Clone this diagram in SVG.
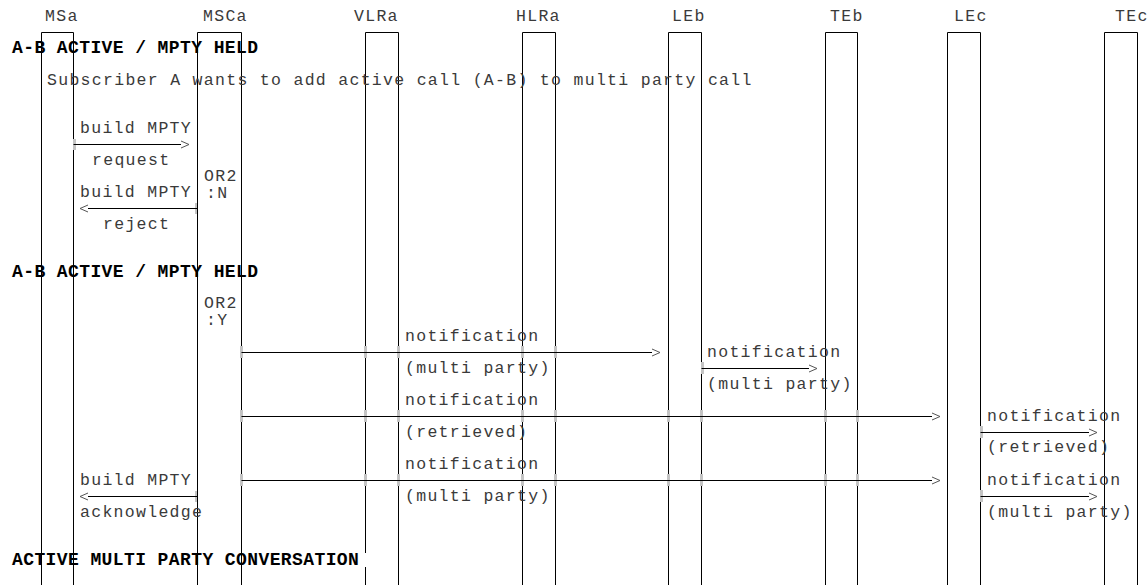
<svg xmlns="http://www.w3.org/2000/svg" width="1147" height="585" viewBox="0 0 1147 585">
<style>
.bg{fill:#fff}
.ll{fill:none;stroke:#000;stroke-width:1}
.t{font-family:"Liberation Mono","Courier New",monospace;font-size:16.5px;letter-spacing:1.3px;fill:#3a3a3a}
.b{font-family:"Liberation Mono","Courier New",monospace;font-size:18px;font-weight:bold;letter-spacing:0.4px;fill:#000}
.msg{fill:none;stroke:#000;stroke-width:1}
.tk{fill:#c4c4c4}
</style>
<defs>
<marker id="ah" markerUnits="userSpaceOnUse" markerWidth="10" markerHeight="10" refX="0" refY="4" orient="auto" overflow="visible">
<path d="M0,0.5 L8,4 L0,7.5" fill="none" stroke="#555" stroke-width="1"/>
</marker>
</defs>
<rect class="bg" x="0" y="0" width="1147" height="585"/>

<g id="MSa"><text class="t" x="45" y="21">MSa</text><path class="ll" d="M41.5 585 V32.5 H73.5 V585"/></g>
<g id="MSCa"><text class="t" x="203" y="21">MSCa</text><path class="ll" d="M197.5 585 V32.5 H241.5 V585"/></g>
<g id="VLRa"><text class="t" x="354" y="21">VLRa</text><path class="ll" d="M365.5 553 V32.5 H398.5 V585 M365.5 567 V585"/></g>
<g id="HLRa"><text class="t" x="516" y="21">HLRa</text><path class="ll" d="M522.5 585 V32.5 H555.5 V585"/></g>
<g id="LEb"><text class="t" x="672" y="21">LEb</text><path class="ll" d="M668.5 585 V32.5 H701.5 V585"/></g>
<g id="TEb"><text class="t" x="830" y="21">TEb</text><path class="ll" d="M825.5 585 V32.5 H857.5 V585"/></g>
<g id="LEc"><text class="t" x="954" y="21">LEc</text><path class="ll" d="M947.5 585 V32.5 H980.5 V585"/></g>
<g id="TEc"><text class="t" x="1115" y="21">TEc</text><path class="ll" d="M1104.5 585 V32.5 H1137.5 V585"/></g>

<g id="notes">
<text class="b" x="12" y="53">A-B ACTIVE / MPTY HELD</text>
<text class="t" x="47" y="85">Subscriber A wants to add active call (A-B) to multi party call</text>
<text class="t" x="204" y="181">OR2</text>
<text class="t" x="206" y="198">:N</text>
<text class="b" x="12" y="277">A-B ACTIVE / MPTY HELD</text>
<text class="t" x="204" y="308">OR2</text>
<text class="t" x="206" y="325">:Y</text>
<text class="b" x="12" y="565">ACTIVE MULTI PARTY CONVERSATION</text>
</g>

<g id="connectors">
<g id="ticks">
<rect class="tk" x="73" y="139" width="3" height="11"/>
<rect class="tk" x="195" y="203" width="2" height="11"/>
<rect class="tk" x="195" y="491" width="2" height="11"/>
<rect class="tk" x="240" y="346" width="3" height="12"/>
<rect class="tk" x="364" y="346" width="3" height="12"/>
<rect class="tk" x="397" y="346" width="3" height="12"/>
<rect class="tk" x="521" y="346" width="3" height="12"/>
<rect class="tk" x="554" y="346" width="3" height="12"/>
<rect class="tk" x="701" y="362" width="3" height="12"/>
<rect class="tk" x="240" y="410" width="3" height="12"/>
<rect class="tk" x="364" y="410" width="3" height="12"/>
<rect class="tk" x="397" y="410" width="3" height="12"/>
<rect class="tk" x="521" y="410" width="3" height="12"/>
<rect class="tk" x="554" y="410" width="3" height="12"/>
<rect class="tk" x="667" y="410" width="3" height="12"/>
<rect class="tk" x="700" y="410" width="3" height="12"/>
<rect class="tk" x="824" y="410" width="3" height="12"/>
<rect class="tk" x="856" y="410" width="3" height="12"/>
<rect class="tk" x="240" y="474" width="3" height="12"/>
<rect class="tk" x="364" y="474" width="3" height="12"/>
<rect class="tk" x="397" y="474" width="3" height="12"/>
<rect class="tk" x="521" y="474" width="3" height="12"/>
<rect class="tk" x="554" y="474" width="3" height="12"/>
<rect class="tk" x="667" y="474" width="3" height="12"/>
<rect class="tk" x="700" y="474" width="3" height="12"/>
<rect class="tk" x="824" y="474" width="3" height="12"/>
<rect class="tk" x="856" y="474" width="3" height="12"/>
<rect class="tk" x="980" y="426" width="3" height="12"/>
<rect class="tk" x="980" y="490" width="3" height="12"/>
</g>

<g id="m1"><text class="t" x="80" y="133">build MPTY</text><path class="msg" d="M73.5 144.5 H181" marker-end="url(#ah)"/><text class="t" x="92" y="165">request</text></g>
<g id="m2"><text class="t" x="80" y="197">build MPTY</text><path class="msg" d="M197 208.5 H88" marker-end="url(#ah)"/><text class="t" x="103" y="229">reject</text></g>
<g id="m3"><text class="t" x="405" y="341">notification</text><path class="msg" d="M241.5 352.5 H652" marker-end="url(#ah)"/><text class="t" x="405" y="373">(multi party)</text></g>
<g id="m4"><text class="t" x="707" y="357">notification</text><path class="msg" d="M701.5 368.5 H809" marker-end="url(#ah)"/><text class="t" x="707" y="389">(multi party)</text></g>
<g id="m5"><text class="t" x="405" y="405">notification</text><path class="msg" d="M241.5 416.5 H932" marker-end="url(#ah)"/><text class="t" x="405" y="437">(retrieved)</text></g>
<g id="m6"><text class="t" x="987" y="421">notification</text><path class="msg" d="M980.5 432.5 H1089" marker-end="url(#ah)"/><text class="t" x="987" y="452">(retrieved)</text></g>
<g id="m7"><text class="t" x="405" y="469">notification</text><path class="msg" d="M241.5 480.5 H932" marker-end="url(#ah)"/><text class="t" x="405" y="501">(multi party)</text></g>
<g id="m8"><text class="t" x="987" y="485">notification</text><path class="msg" d="M980.5 496.5 H1089" marker-end="url(#ah)"/><text class="t" x="987" y="517">(multi party)</text></g>
<g id="m9"><text class="t" x="80" y="485">build MPTY</text><path class="msg" d="M197 496.5 H88" marker-end="url(#ah)"/><text class="t" x="80" y="517">acknowledge</text></g>
</g>
</svg>
